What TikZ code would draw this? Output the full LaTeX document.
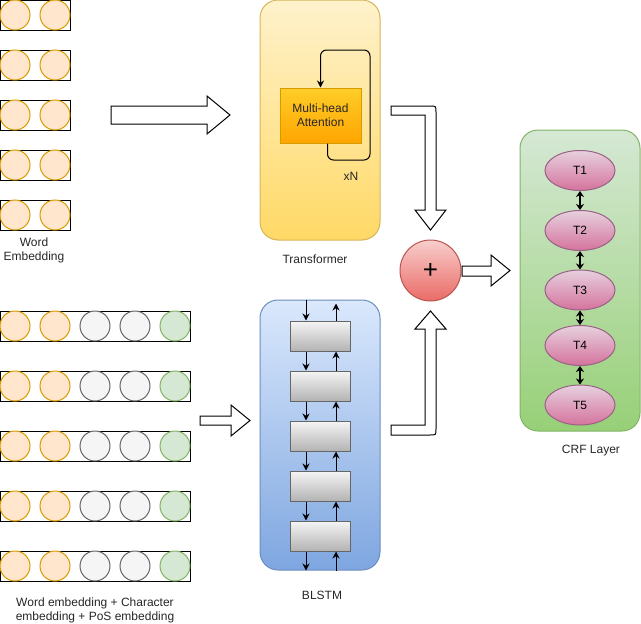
\documentclass[tikz,border=0pt]{standalone}
\usepackage{fontspec}
\setmainfont{Liberation Sans}
\usetikzlibrary{arrows.meta,shapes.geometric}
\definecolor{orfill}{HTML}{FFE6CC}
\definecolor{orline}{HTML}{D79B00}
\definecolor{grfill}{HTML}{F5F5F5}
\definecolor{grline}{HTML}{666666}
\definecolor{gnfill}{HTML}{D5E8D4}
\definecolor{gnline}{HTML}{82B366}
\definecolor{trtop}{HTML}{FFF2CC}
\definecolor{trbot}{HTML}{FFD966}
\definecolor{trline}{HTML}{D6B656}
\definecolor{mhtop}{HTML}{FFCD28}
\definecolor{mhbot}{HTML}{FFA500}
\definecolor{bltop}{HTML}{DAE8FC}
\definecolor{blbot}{HTML}{7EA6E0}
\definecolor{blline}{HTML}{6C8EBF}
\definecolor{cltop}{HTML}{F5F5F5}
\definecolor{clbot}{HTML}{B3B3B3}
\definecolor{crtop}{HTML}{D5E8D4}
\definecolor{crbot}{HTML}{97D077}
\definecolor{pltop}{HTML}{F8CECC}
\definecolor{plbot}{HTML}{EA6B66}
\definecolor{plline}{HTML}{B85450}
\definecolor{eltop}{HTML}{E6D0DE}
\definecolor{elbot}{HTML}{D5739D}
\definecolor{elline}{HTML}{996185}
\begin{document}
\begin{tikzpicture}[x=1pt,y=-1pt,
  font=\fontsize{12}{14}\selectfont,
  embrow/.style={draw=black, line width=1pt, minimum height=30pt, inner sep=0pt},
  dot/.style={circle, minimum size=30pt, inner sep=0pt, line width=1pt},
  orng/.style={dot, fill=orfill, draw=orline},
  gray/.style={dot, fill=grfill, draw=grline},
  gren/.style={dot, fill=gnfill, draw=gnline},
  bigbox/.style={rounded corners=18pt, line width=1pt, inner sep=0pt},
  cell/.style={draw=grline, line width=1pt, top color=cltop, bottom color=clbot, minimum width=60pt, minimum height=30pt, inner sep=0pt},
  tag/.style={ellipse, draw=elline, line width=1pt, top color=eltop, bottom color=elbot, minimum width=70pt, minimum height=40pt, inner sep=0pt},
  arr/.style={line width=1pt, -{Stealth[length=7pt,width=7pt]}},
  darr/.style={line width=1.5pt, {Stealth[length=6pt,width=8pt]}-{Stealth[length=6pt,width=8pt]}},
  blockarr/.style={draw=black, fill=white, line width=1pt, line join=miter},
  lbl/.style={align=center, inner sep=0pt, text=black!85}
]
\useasboundingbox (0,0) rectangle (641,624);

% Word embedding rows
\foreach \i in {1,...,5}{
  \pgfmathsetmacro{\yy}{15+50*(\i-1)}
  \node[embrow, minimum width=70pt] (w\i) at (35,\yy) {};
  \node[orng] (w\i a) at (15,\yy) {};
  \node[orng] (w\i b) at (55,\yy) {};
}
\node[lbl] (wlbl) at (34,250) {Word\\Embedding};

% Combined embedding rows
\foreach \i in {1,...,5}{
  \pgfmathsetmacro{\yy}{326+60*(\i-1)}
  \node[embrow, minimum width=190pt] (c\i) at (95,\yy) {};
  \node[orng] (c\i a) at (15,\yy) {};
  \node[orng] (c\i b) at (55,\yy) {};
  \node[gray] (c\i c) at (95,\yy) {};
  \node[gray] (c\i d) at (135,\yy) {};
  \node[gren] (c\i e) at (175,\yy) {};
}
\node[lbl] (clbl) at (95,610) {Word embedding + Character\\embedding + PoS embedding};

% Transformer
\node[bigbox, draw=trline, top color=trtop, bottom color=trbot, minimum width=120pt, minimum height=240pt] (tr) at (320,120) {};
\node[draw=orline, line width=1pt, top color=mhtop, bottom color=mhbot, minimum width=81pt, minimum height=55pt, align=center, inner sep=0pt, text=black!85] (mha) at (320.5,115.5) {Multi-head\\Attention};
\draw[arr, rounded corners=6pt] ([xshift=7pt]mha.south) -- (327.5,160) -- (370,160) -- (370,50) -- (320.5,50) -- (mha.north);
\node[lbl] (xn) at (351,176) {xN};
\node[lbl] (trlbl) at (315,259) {Transformer};

% BLSTM
\node[bigbox, draw=blline, top color=bltop, bottom color=blbot, minimum width=120pt, minimum height=270pt] (bl) at (320,435) {};
\foreach \i in {1,...,5}{
  \pgfmathsetmacro{\yy}{336+50*(\i-1)}
  \node[cell] (l\i) at (320,\yy) {};
}
\draw[arr] ([xshift=-14pt]bl.north) -- ([xshift=-14pt]l1.north);
\draw[arr] ([xshift=-14pt]l1.south) -- ([xshift=-14pt]l2.north);
\draw[arr] ([xshift=-14pt]l2.south) -- ([xshift=-14pt]l3.north);
\draw[arr] ([xshift=-14pt]l3.south) -- ([xshift=-14pt]l4.north);
\draw[arr] ([xshift=-14pt]l4.south) -- ([xshift=-14pt]l5.north);
\draw[arr] ([xshift=-14pt]l5.south) -- ([xshift=-14pt]bl.south);
\draw[arr] ([xshift=16pt]bl.south) -- ([xshift=16pt]l5.south);
\draw[arr] ([xshift=16pt]l5.north) -- ([xshift=16pt]l4.south);
\draw[arr] ([xshift=16pt]l4.north) -- ([xshift=16pt]l3.south);
\draw[arr] ([xshift=16pt]l3.north) -- ([xshift=16pt]l2.south);
\draw[arr] ([xshift=16pt]l2.north) -- ([xshift=16pt]l1.south);
\draw[arr] ([xshift=16pt]l1.north) -- ([xshift=16pt,yshift=-4pt]bl.north);
\node[lbl] (bllbl) at (322,595) {BLSTM};

% Plus
\node[circle, draw=plline, line width=1pt, top color=pltop, bottom color=plbot, minimum size=61pt, inner sep=0pt, font=\fontsize{26}{26}\selectfont] (plus) at (430.5,270.5) {+};

% CRF
\node[bigbox, draw=gnline, top color=crtop, bottom color=crbot, minimum width=120pt, minimum height=301pt] (crf) at (580,280.5) {};
\node[tag] (t1) at (580,170.5) {T1};
\node[tag] (t2) at (580,230.5) {T2};
\node[tag] (t3) at (580,290) {T3};
\node[tag] (t4) at (580,345.5) {T4};
\node[tag] (t5) at (580,405) {T5};
\draw[darr] (t1) -- (t2);
\draw[darr] (t2) -- (t3);
\draw[darr] (t3) -- (t4);
\draw[darr] (t4) -- (t5);
\node[lbl] (crflbl) at (591,451) {CRF Layer};

% Block arrows
\draw[blockarr] (111,106) -- (207,106) -- (207,96) -- (230,115) -- (207,134) -- (207,124) -- (111,124) -- cycle;
\draw[blockarr] (200,416) -- (231,416) -- (231,405) -- (250,420.5) -- (231,436) -- (231,425) -- (200,425) -- cycle;
\draw[blockarr] (462,266) -- (491,266) -- (491,255) -- (510,270.5) -- (491,286) -- (491,276) -- (462,276) -- cycle;
\draw[blockarr] (391,106) -- (430,106) .. controls (436,106) .. (436,112) -- (436,210) -- (446,210) -- (430.5,230) -- (415,210) -- (425,210) -- (425,115) -- (391,115) -- cycle;
\draw[blockarr] (391,425) -- (425,425) -- (425,329) -- (415,329) -- (430.5,311) -- (446,329) -- (436,329) -- (436,429) .. controls (436,435) .. (430,435) -- (391,435) -- cycle;
\end{tikzpicture}
\end{document}
